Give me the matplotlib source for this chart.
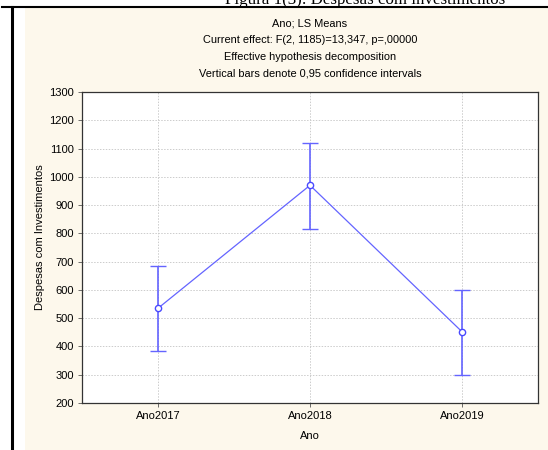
import matplotlib.pyplot as plt
from matplotlib.patches import Rectangle
from matplotlib.lines import Line2D

plt.rcParams['font.family'] = ['Liberation Sans', 'DejaVu Sans']

# LS means and 0.95 confidence limits
categorias = ["Ano2017", "Ano2018", "Ano2019"]
medias = [535, 970, 452]
ic_inf = [383, 817, 299]
ic_sup = [684, 1120, 598]
y_ticks = list(range(200, 1400, 100))

titulo = ["Ano; LS Means",
          "Current effect: F(2, 1185)=13,347, p=,00000",
          "Effective hypothesis decomposition",
          "Vertical bars denote 0,95 confidence intervals"]

W, H = 548, 450
fig = plt.figure(figsize=(W / 100, H / 100), dpi=100)
fig.patch.set_facecolor("white")

# beige panel + black frame lines of the document page
fig.patches.append(Rectangle((25 / W, 0), 1 - 25 / W, 1 - 8 / H,
                             transform=fig.transFigure, facecolor="#fdf8ec",
                             edgecolor="none", zorder=-5))
fig.lines.append(Line2D([2 / W, 1], [1 - 7 / H, 1 - 7 / H], transform=fig.transFigure,
                        color="black", lw=1.5, zorder=-4))
fig.lines.append(Line2D([12 / W, 12 / W], [0, 1 - 7 / H], transform=fig.transFigure,
                        color="black", lw=2.2, zorder=-4))
# caption of the document, cut by the top edge as in the original screenshot
fig.text(365 / W, 1 - 3.5 / H, "Figura 1(3): Despesas com investimentos", ha="center",
         va="baseline", family="Liberation Serif", fontsize=12.2, zorder=-4)

ax = fig.add_axes([82 / W, 1 - 403 / H, 456 / W, 311 / H])
ax.set_facecolor("white")

x = list(range(len(categorias)))
err_low = [m - l for m, l in zip(medias, ic_inf)]
err_high = [u - m for m, u in zip(medias, ic_sup)]
ax.errorbar(x, medias, yerr=[err_low, err_high], color="#6464ff", lw=0.9,
            elinewidth=1.2, capsize=5.8, capthick=1.2,
            marker="o", markersize=4.5, markerfacecolor="white",
            markeredgecolor="#4a4aff", markeredgewidth=1.0, zorder=3)

ax.set_xlim(-0.5, 2.5)
ax.set_ylim(200, 1300)
ax.set_xticks(x)
ax.set_xticklabels(categorias)
ax.set_yticks(y_ticks)
ax.tick_params(labelsize=8, length=3, width=0.6, color="#555555", pad=3)
ax.grid(True, color="#cccccc", linestyle=(0, (1.5, 1.5)), lw=0.7)
ax.set_axisbelow(True)
for s in ax.spines.values():
    s.set_color("#333333")
    s.set_linewidth(0.9)

ax.set_xlabel("Ano", fontsize=8, labelpad=7)
ax.set_ylabel("Despesas com Investimentos", fontsize=8)
ax.yaxis.set_label_coords(-37 / 456, (403 - 237.5) / 311)

for i, t in enumerate(titulo):
    fig.text(310 / W, 1 - (24 + 16.4 * i) / H, t, ha="center", va="center", fontsize=7.9)

fig.savefig("out.png", dpi=100)
